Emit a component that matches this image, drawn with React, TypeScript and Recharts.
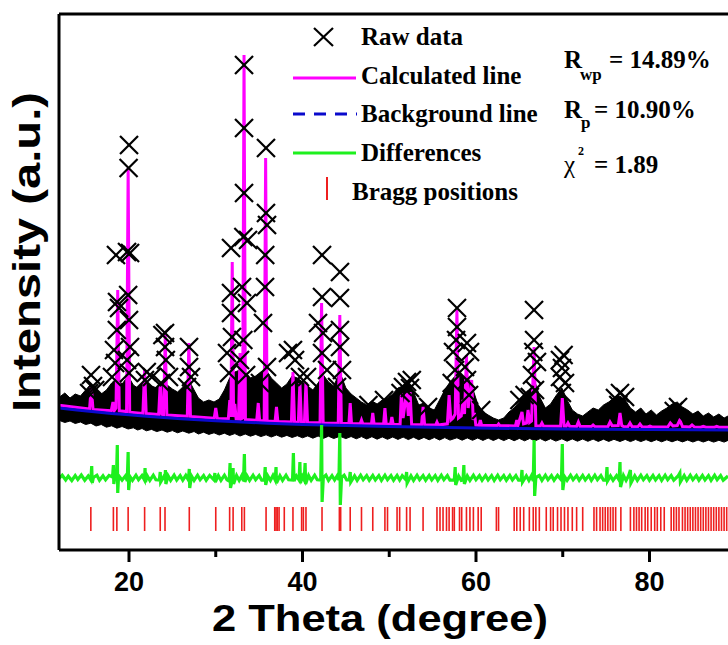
import { ComposedChart, XAxis, YAxis, Area, Line, Scatter, ReferenceLine } from 'recharts'

// x = 2 theta (degree), y = intensity (arbitrary counts)
const xTicks = [20, 30, 40, 50, 60, 70, 80]
const xMin = 11.93
const xMax = 89.05
const yMax = 5360

const bandTheta = [
  12.0, 12.6, 13.2, 13.8, 14.4, 15.0, 15.6, 16.2, 16.8, 17.4, 18.0, 18.6, 19.2, 19.9, 20.5, 21.0, 21.5, 22.0,
  22.6, 23.2, 23.8, 24.4, 25.0, 25.6, 26.2, 26.9, 27.5, 28.0, 28.6, 29.2, 29.8, 30.4, 31.0, 31.6, 32.2, 32.8,
  33.4, 34.0, 34.6, 35.2, 35.8, 36.4, 37.0, 37.6, 38.2, 38.8, 39.4, 40.0, 40.6, 41.2, 41.8, 42.4, 43.0, 43.6,
  44.3, 45.0, 45.6, 46.2, 46.8, 47.4, 48.0, 48.6, 49.2, 49.8, 50.4, 51.0, 51.6, 52.2, 52.8, 53.4, 54.0, 54.6,
  55.2, 55.8, 56.4, 57.0, 57.8, 58.4, 59.0, 59.6, 60.2, 60.8, 61.4, 62.0, 62.6, 63.2, 63.8, 64.4, 65.0, 65.6,
  66.2, 66.8, 67.4, 68.0, 68.6, 69.2, 69.9, 70.5, 71.1, 71.7, 72.3, 72.9, 73.5, 74.1, 74.7, 75.3, 75.9, 76.6,
  77.2, 77.8, 78.4, 79.0, 79.6, 80.2, 80.8, 81.4, 82.0, 82.6, 83.2, 83.8, 84.4, 85.0, 85.6, 86.2, 86.8, 87.4,
  88.0, 88.6, 89.05
]
const bandTop = [
  1530, 1570, 1520, 1560, 1540, 1600, 1660, 1610, 1560, 1600, 1670, 1720, 1660, 1740, 1650, 1620, 1660, 1680,
  1640, 1620, 1670, 1650, 1610, 1580, 1630, 1700, 1600, 1520, 1480, 1500, 1480, 1510, 1600, 1720, 1780, 1800,
  1780, 1720, 1740, 1780, 1800, 1720, 1670, 1620, 1660, 1740, 1720, 1680, 1640, 1600, 1670, 1750, 1680, 1640,
  1780, 1620, 1560, 1520, 1480, 1450, 1490, 1460, 1500, 1520, 1560, 1620, 1640, 1660, 1580, 1450, 1470, 1420,
  1400, 1500, 1600, 1680, 1760, 1720, 1740, 1620, 1460, 1380, 1350, 1320, 1300, 1320, 1380, 1420, 1480, 1540,
  1600, 1680, 1520, 1420, 1460, 1540, 1620, 1500, 1400, 1360, 1340, 1380, 1420, 1400, 1450, 1480, 1520, 1540,
  1500, 1420, 1380, 1420, 1360, 1400, 1350, 1390, 1420, 1460, 1480, 1430, 1400, 1360, 1390, 1340, 1370, 1330,
  1360, 1320, 1340
]
const bandBottom = [
  1295, 1275, 1290, 1265, 1280, 1255, 1268, 1240, 1255, 1228, 1242, 1218, 1235, 1210, 1222, 1200, 1215, 1192,
  1206, 1184, 1200, 1178, 1194, 1172, 1190, 1168, 1185, 1160, 1178, 1156, 1172, 1150, 1168, 1146, 1164, 1140,
  1160, 1138, 1156, 1134, 1152, 1130, 1150, 1128, 1146, 1125, 1143, 1122, 1141, 1118, 1140, 1116, 1138, 1115,
  1137, 1114, 1135, 1112, 1134, 1110, 1133, 1108, 1131, 1107, 1130, 1106, 1129, 1104, 1128, 1103, 1126, 1102,
  1125, 1100, 1124, 1099, 1122, 1098, 1121, 1097, 1120, 1096, 1119, 1095, 1118, 1094, 1117, 1093, 1116, 1092,
  1115, 1091, 1114, 1090, 1113, 1089, 1112, 1088, 1111, 1088, 1110, 1087, 1109, 1086, 1108, 1086, 1107, 1085,
  1106, 1084, 1105, 1084, 1104, 1083, 1103, 1082, 1102, 1082, 1101, 1081, 1100, 1080, 1099, 1080, 1098, 1079,
  1097, 1079, 1096
]

const backgroundTheta = [11.93, 14, 16, 18, 20, 22, 24, 26, 28, 30, 33, 36, 40, 45, 50, 55, 60, 65, 70, 75, 80, 85, 89.05]
const backgroundValues = [1420, 1400, 1382, 1366, 1352, 1338, 1325, 1313, 1302, 1292, 1280, 1268, 1255, 1244, 1235, 1227, 1220, 1215, 1210, 1207, 1204, 1202, 1200]

const calcPoints = [
  [11.93, 1448], [15.45, 1410], [15.65, 1630], [15.85, 1406],
  [17.95, 1392], [18.15, 1480], [18.3, 1394], [18.5, 1420], [18.7, 2600], [18.88, 1392],
  [19.72, 1385], [19.9, 3820], [20.08, 1378],
  [21.6, 1366], [21.8, 1800], [21.98, 1364],
  [23.42, 1354], [23.6, 1670], [23.78, 1356], [23.98, 1352], [24.18, 2150], [24.36, 1350],
  [26.72, 1338], [26.9, 2070], [27.08, 1336],
  [29.82, 1318], [30.0, 1420], [30.18, 1316],
  [31.45, 1312], [31.62, 1500], [31.74, 1330], [31.9, 2880], [32.06, 1330], [32.2, 1460], [32.35, 1310],
  [32.62, 1308], [32.8, 1970], [32.96, 1312], [33.1, 1320], [33.26, 4950], [33.42, 1304],
  [34.72, 1296], [34.9, 1470], [35.06, 1295], [35.58, 1292], [35.75, 3920], [35.92, 1290],
  [36.84, 1286], [37.0, 1430], [37.16, 1285],
  [38.72, 1280], [38.9, 1780], [39.08, 1280], [39.52, 1278], [39.7, 1670], [39.88, 1278],
  [40.22, 1277], [40.4, 1680], [40.58, 1276],
  [42.02, 1272], [42.2, 2470], [42.38, 1270],
  [44.12, 1268], [44.3, 2350], [44.48, 1266],
  [45.35, 1265], [45.5, 1470], [45.65, 1264],
  [46.65, 1263], [46.8, 1300], [46.95, 1262],
  [47.95, 1261], [48.1, 1370], [48.25, 1260],
  [49.35, 1259], [49.5, 1420], [49.65, 1258],
  [50.15, 1258], [50.3, 1330], [50.45, 1257],
  [51.25, 1256], [51.4, 1570], [51.6, 1320], [52.0, 1580], [52.2, 1340], [52.4, 1580], [52.58, 1255],
  [53.72, 1253], [53.9, 1430], [54.08, 1252],
  [55.35, 1250], [55.5, 1280], [55.65, 1250],
  [56.7, 1262], [56.9, 1550], [57.1, 1300], [57.35, 1320], [57.6, 1360], [57.8, 2400], [57.98, 1320],
  [58.3, 1340], [58.5, 1500], [58.68, 1360], [58.9, 1950], [59.1, 1420], [59.5, 1700], [59.68, 1300],
  [59.82, 1370], [59.98, 1250],
  [60.35, 1247], [60.5, 1300], [60.65, 1246],
  [62.45, 1244], [62.6, 1260], [62.75, 1243],
  [64.55, 1241], [64.7, 1300], [64.85, 1250], [65.3, 1380], [65.48, 1262], [65.82, 1270], [66.0, 1400],
  [66.18, 1275], [66.4, 1290], [66.7, 2030], [66.9, 1242],
  [67.42, 1240], [67.6, 1270], [67.78, 1239],
  [69.75, 1237], [69.95, 1520], [70.15, 1240], [70.4, 1238], [70.6, 1270], [70.8, 1237],
  [71.6, 1236], [71.8, 1280], [72.0, 1236],
  [73.3, 1234], [73.5, 1250], [73.7, 1234],
  [75.2, 1233], [75.45, 1280], [75.7, 1242], [76.4, 1245], [76.6, 1370], [76.8, 1244], [77.0, 1236],
  [77.5, 1233], [77.75, 1270], [78.0, 1232],
  [78.65, 1232], [78.9, 1260], [79.15, 1231],
  [79.8, 1231], [80.05, 1238], [80.3, 1230],
  [82.1, 1229], [82.4, 1270], [82.7, 1240], [83.2, 1245], [83.5, 1300], [83.8, 1235],
  [84.6, 1229], [84.9, 1250], [85.2, 1229],
  [85.9, 1228], [86.2, 1236], [86.5, 1228],
  [87.5, 1228], [87.75, 1236], [88.0, 1228],
  [89.05, 1227]
]

const rawMarks = [
  [15.62, 1750], [15.85, 1640], [15.4, 1570], [16.1, 1600],
  [18.5, 2950], [18.62, 2480], [18.85, 2420], [18.6, 2200], [18.27, 2000], [18.4, 1870], [18.04, 1730],
  [20.0, 4050], [19.95, 3820], [19.77, 2980], [20.12, 2970], [19.9, 2550], [20.0, 2300], [20.12, 2030],
  [19.77, 1900], [20.0, 1770],
  [21.84, 1700], [22.05, 1780], [22.65, 1730],
  [24.15, 2170], [23.85, 2150], [24.15, 2030], [24.25, 1900], [24.61, 1730], [23.69, 1670],
  [26.92, 2030], [26.92, 1830], [27.15, 1730], [26.69, 1630],
  [31.76, 3020], [31.76, 2570], [31.76, 2370], [31.87, 2130], [31.3, 1970], [31.53, 1770],
  [33.26, 4850], [33.26, 4220], [33.26, 3570], [33.18, 3130], [33.72, 3100], [33.03, 2630], [33.6, 2470],
  [33.18, 2100], [32.8, 1900], [33.5, 1750],
  [35.79, 4020], [35.79, 3370], [35.91, 3250], [35.7, 2950], [35.68, 2630], [35.45, 2270], [35.91, 1830],
  [35.1, 1670],
  [38.9, 2000], [39.14, 1900], [38.33, 1970], [39.71, 1730], [40.52, 1730],
  [42.25, 2950], [42.25, 2530], [41.79, 2270], [42.37, 2170], [42.25, 1970], [42.83, 1800],
  [44.32, 2780], [44.32, 2520], [44.32, 2200], [44.32, 2030], [44.55, 1800], [43.98, 1630],
  [47.6, 1450], [49.4, 1500],
  [51.58, 1630], [52.05, 1680], [52.39, 1620], [51.3, 1570], [52.6, 1700],
  [54.47, 1430],
  [57.81, 2420], [57.81, 2230], [57.7, 2100], [57.35, 1980], [57.58, 1800], [57.2, 1670],
  [58.96, 2070], [59.31, 1980], [58.73, 1830], [58.96, 1700], [59.2, 1550],
  [60.6, 1400],
  [65.0, 1500], [65.6, 1550],
  [66.69, 2400], [66.7, 2100], [66.6, 1980], [67.03, 1880], [66.45, 1750], [66.8, 1600], [66.2, 1530],
  [69.68, 1900], [70.1, 1950], [69.91, 1820], [69.68, 1730], [70.26, 1670], [69.9, 1570],
  [76.6, 1570], [76.02, 1520], [77.18, 1530], [76.4, 1450],
  [83.29, 1430], [82.8, 1390]
]

const diffPoints = [
  [11.93, 715], [12.3, 748], [12.7, 700], [13.0, 738], [13.4, 695], [13.8, 745], [14.1, 705], [14.5, 750],
  [14.9, 698], [15.3, 740], [15.6, 700], [15.7, 840], [15.76, 670], [15.9, 725],
  [16.3, 748], [16.6, 698], [17.0, 742], [17.3, 702], [17.7, 746], [18.1, 730], [18.2, 850], [18.25, 660],
  [18.4, 745], [18.55, 700], [18.65, 1050], [18.7, 570], [18.8, 745],
  [19.2, 698], [19.6, 742], [19.8, 690], [19.9, 980], [19.96, 600], [20.1, 735],
  [20.4, 696], [20.8, 748], [21.1, 702], [21.5, 744], [21.78, 700], [21.85, 820], [21.9, 680], [22.1, 742],
  [22.4, 696], [22.8, 748], [23.1, 702], [23.5, 700], [23.6, 780], [23.65, 680], [24.05, 740], [24.15, 700],
  [24.2, 800], [24.25, 660], [24.5, 742],
  [24.8, 696], [25.2, 748], [25.5, 700], [25.9, 744], [26.2, 698], [26.55, 746], [26.85, 700], [26.95, 810],
  [27.0, 620], [27.2, 740],
  [27.5, 696], [27.9, 748], [28.2, 702], [28.6, 744], [28.9, 698], [29.3, 746], [29.8, 700], [29.9, 770],
  [29.95, 680], [30.3, 745],
  [30.6, 696], [31.0, 748], [31.3, 702], [31.55, 690], [31.65, 870], [31.7, 620], [31.9, 700], [32.0, 820],
  [32.05, 660], [32.4, 745], [32.7, 696], [33.0, 744], [33.2, 690], [33.3, 960], [33.36, 680], [33.6, 742],
  [33.9, 696], [34.3, 748], [34.6, 702], [35.0, 744], [35.3, 698], [35.6, 700], [35.7, 830], [35.76, 650],
  [36.0, 740], [36.3, 696], [36.6, 746], [36.85, 700], [36.95, 830], [37.0, 670], [37.4, 742],
  [37.7, 696], [38.1, 748], [38.4, 702], [38.85, 700], [38.95, 970], [39.02, 690], [39.3, 740], [39.6, 700],
  [39.7, 880], [39.76, 670], [40.0, 735], [40.2, 700], [40.3, 870], [40.36, 660], [40.7, 745],
  [41.0, 696], [41.4, 748], [41.7, 702], [42.1, 700], [42.2, 1250], [42.26, 480], [42.4, 725],
  [42.7, 748], [43.0, 696], [43.4, 744], [43.7, 700], [44.0, 742], [44.2, 700], [44.3, 1170], [44.36, 450],
  [44.5, 725], [44.8, 748], [45.1, 700], [45.4, 700], [45.5, 780], [45.56, 680], [46.0, 742],
  [46.3, 696], [46.7, 748], [47.0, 702], [47.4, 744], [47.7, 698], [48.1, 746], [48.4, 700], [48.8, 744],
  [49.1, 696], [49.5, 748], [49.8, 702], [50.2, 744], [50.5, 698], [50.9, 746], [51.2, 700], [51.5, 744],
  [51.9, 705], [52.0, 780], [52.06, 670], [52.5, 742],
  [52.8, 696], [53.2, 748], [53.5, 702], [53.9, 744], [54.2, 698], [54.6, 746], [54.9, 700], [55.3, 744],
  [55.6, 696], [56.0, 748], [56.3, 702], [56.7, 744], [57.0, 698], [57.5, 700], [57.6, 830], [57.66, 650],
  [58.0, 740], [58.3, 696], [58.5, 700], [58.6, 850], [58.66, 660], [59.0, 740],
  [59.3, 696], [59.7, 748], [60.0, 702], [60.4, 744], [60.7, 698], [61.1, 746], [61.4, 700], [61.8, 744],
  [62.1, 696], [62.5, 748], [62.8, 702], [63.2, 744], [63.5, 698], [63.9, 746], [64.2, 700], [64.6, 744],
  [64.9, 698], [65.2, 700], [65.3, 800], [65.36, 680], [65.8, 742], [66.1, 696], [66.4, 744], [66.6, 690],
  [66.7, 1100], [66.76, 540], [66.9, 725], [67.3, 745],
  [67.6, 696], [68.0, 748], [68.3, 702], [68.7, 744], [69.0, 698], [69.4, 746], [69.85, 700], [69.95, 1060],
  [70.01, 600], [70.2, 735],
  [70.5, 696], [70.9, 748], [71.2, 702], [71.6, 744], [71.9, 698], [72.3, 746], [72.6, 700], [73.0, 744],
  [73.3, 696], [73.7, 748], [74.0, 702], [74.4, 744], [74.7, 698], [75.0, 700], [75.1, 830], [75.16, 690],
  [75.5, 740], [75.8, 696], [76.2, 744], [76.5, 700], [76.6, 880], [76.66, 630], [77.0, 745], [77.3, 696],
  [77.6, 744], [77.8, 800], [77.86, 670], [78.3, 742],
  [78.6, 696], [79.0, 748], [79.3, 702], [79.7, 744], [80.0, 698], [80.4, 746], [80.7, 700], [81.1, 744],
  [81.4, 696], [81.8, 748], [82.1, 702], [82.5, 744], [82.8, 698], [83.3, 740], [83.5, 770], [83.56, 680],
  [84.0, 745], [84.3, 696], [84.7, 748], [85.0, 702], [85.4, 744], [85.7, 698], [86.1, 746], [86.4, 700],
  [86.8, 744], [87.1, 696], [87.5, 748], [87.8, 702], [88.2, 744], [88.5, 698], [89.05, 740]
]

const braggPositions = [
  15.6, 18.2, 18.6, 19.9, 21.8, 23.6, 24.15, 26.95, 30.0, 31.6, 32.0, 33.0, 33.3, 35.8, 36.8, 36.95, 37.1,
  37.3, 37.9, 38.9, 39.9, 40.1, 40.4, 42.25, 44.25, 44.4, 45.5, 46.8, 48.1, 49.5, 49.8, 50.9, 51.2, 52.0,
  52.4, 53.9, 55.5, 55.85, 56.2, 56.6, 56.9, 57.3, 57.5, 58.1, 58.35, 58.9, 59.3, 59.7, 60.25, 60.6, 62.35,
  62.6, 64.4, 64.7, 65.1, 65.5, 66.15, 66.6, 66.9, 67.3, 68.1, 68.6, 68.9, 69.4, 69.8, 70.2, 70.6, 71.1,
  71.6, 72.3, 73.6, 73.9, 74.3, 74.6, 74.9, 75.2, 75.5, 75.8, 76.1, 76.7, 77.8, 78.2, 78.5, 78.8, 79.1,
  79.5, 79.8, 80.2, 80.6, 80.9, 81.3, 81.7, 82.5, 82.8, 83.1, 83.4, 83.8, 84.1, 84.4, 84.7, 85.0, 85.3,
  85.6, 85.9, 86.2, 86.5, 86.8, 87.1, 87.4, 87.7, 88.0, 88.3, 88.6, 88.9
]
const braggLevel = 310

const bandRows = bandTheta.map((t, i) => ({ t, range: [bandBottom[i], bandTop[i]] }))
const bgRows = backgroundTheta.map((t, i) => ({ t, v: backgroundValues[i] }))
const calcRows = calcPoints.map(([t, v]) => ({ t, v }))
const rawRows = rawMarks.map(([t, v]) => ({ t, v }))
const diffRows = diffPoints.map(([t, v]) => ({ t, v }))
const braggRows = braggPositions.map((t) => ({ t, v: braggLevel }))

const SANS = "'Liberation Sans', Arial, sans-serif"
const SERIF = "'Liberation Serif', 'Times New Roman', serif"

const XMark = (props: any) => {
  const { cx, cy } = props
  if (cx == null || cy == null) return null
  return (
    <g stroke="#000" strokeWidth={2.2}>
      <line x1={cx - 9} y1={cy - 9} x2={cx + 9} y2={cy + 9} />
      <line x1={cx - 9} y1={cy + 9} x2={cx + 9} y2={cy - 9} />
    </g>
  )
}

const BraggTick = (props: any) => {
  const { cx, cy } = props
  if (cx == null || cy == null) return null
  return <line x1={cx} y1={cy - 12} x2={cx} y2={cy + 12} stroke="#ee1f1f" strokeWidth={1.6} />
}

const AxisTick = (props: any) => {
  const { x, y, payload } = props
  const major = payload.value % 20 === 0
  return (
    <g>
      <line x1={x} y1={y} x2={x} y2={y + (major ? 12 : 7)} stroke="#000" strokeWidth={3} />
      {major && (
        <text x={x} y={y + 41} textAnchor="middle" fontFamily={SANS} fontWeight="bold" fontSize={27} fill="#000">
          {payload.value}
        </text>
      )}
    </g>
  )
}

export default function App() {
  return (
    <div style={{ position: 'absolute', left: 0, top: 0, width: 728, height: 645, overflow: 'hidden', background: '#fff' }}>
      <ComposedChart width={728} height={645} margin={{ top: 14, right: 0, bottom: 0, left: 59 }}>
        <XAxis
          dataKey="t"
          type="number"
          domain={[xMin, xMax]}
          allowDataOverflow
          ticks={xTicks}
          interval={0}
          height={95}
          tickLine={false}
          tickSize={0}
          tickMargin={0}
          axisLine={{ stroke: '#000', strokeWidth: 3 }}
          tick={AxisTick}
        />
        <YAxis
          type="number"
          domain={[0, yMax]}
          allowDataOverflow
          width={0}
          tick={false}
          tickLine={false}
          axisLine={{ stroke: '#000', strokeWidth: 3 }}
        />
        <Area
          data={bandRows}
          dataKey="range"
          type="linear"
          stroke="#000"
          strokeWidth={1}
          fill="#000"
          fillOpacity={1}
          isAnimationActive={false}
        />
        <Scatter data={rawRows} dataKey="v" shape={XMark} isAnimationActive={false} />
        <Line data={calcRows} dataKey="v" type="linear" stroke="#ff00ff" strokeWidth={3} dot={false} isAnimationActive={false} />
        <Line data={bgRows} dataKey="v" type="linear" stroke="#0a0acc" strokeWidth={3} dot={false} isAnimationActive={false} />
        <Line data={diffRows} dataKey="v" type="linear" stroke="#1ef01e" strokeWidth={3.2} dot={false} isAnimationActive={false} />
        <Scatter data={braggRows} dataKey="v" shape={BraggTick} isAnimationActive={false} />
        <ReferenceLine y={yMax} stroke="#000" strokeWidth={3} />
        <ReferenceLine x={xMin} stroke="#000" strokeWidth={3} />
      </ComposedChart>

      <svg width={728} height={645} style={{ position: 'absolute', left: 0, top: 0, pointerEvents: 'none' }}>
        <text
          transform="translate(40,252) rotate(-90)"
          textAnchor="middle"
          fontFamily={SANS}
          fontWeight="bold"
          fontSize={38}
          textLength={320}
          lengthAdjust="spacingAndGlyphs"
        >
          Intensity (a.u.)
        </text>
        <text
          x={380}
          y={631}
          textAnchor="middle"
          fontFamily={SANS}
          fontWeight="bold"
          fontSize={36}
          textLength={336}
          lengthAdjust="spacingAndGlyphs"
        >
          2 Theta (degree)
        </text>

        {/* legend */}
        <g stroke="#000" strokeWidth={2.2}>
          <line x1={314} y1={28} x2={333} y2={46} />
          <line x1={314} y1={46} x2={333} y2={28} />
        </g>
        <line x1={293} y1={78} x2={356} y2={78} stroke="#ff00ff" strokeWidth={3} />
        <line x1={293} y1={114} x2={357} y2={114} stroke="#0a0acc" strokeWidth={3} strokeDasharray="12 9" />
        <line x1={293} y1={153} x2={356} y2={153} stroke="#1ef01e" strokeWidth={3} />
        <line x1={327} y1={177} x2={327} y2={200} stroke="#ee1f1f" strokeWidth={2} />
        <g fontFamily={SERIF} fontWeight="bold" fontSize={25} fill="#000">
          <text x={361} y={45}>Raw data</text>
          <text x={361} y={83.5}>Calculated line</text>
          <text x={361} y={122}>Background line</text>
          <text x={361} y={161}>Differences</text>
          <text x={352} y={200}>Bragg positions</text>

          <text x={564} y={68}>R</text>
          <text x={580} y={80} fontSize={17}>wp</text>
          <text x={609} y={68}>= 14.89%</text>
          <text x={564} y={118}>R</text>
          <text x={581} y={128} fontSize={17}>p</text>
          <text x={594} y={118}>= 10.90%</text>
          <text x={564} y={173} fontWeight="normal">χ</text>
          <text x={578} y={155} fontSize={12}>2</text>
          <text x={594} y={173}>= 1.89</text>
        </g>
      </svg>
    </div>
  )
}
